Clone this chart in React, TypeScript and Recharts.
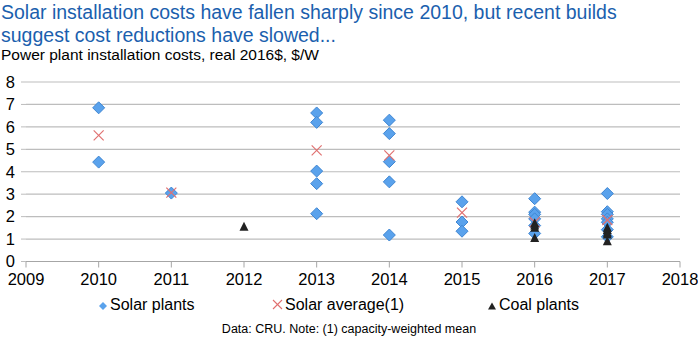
import React from "react";
import { ScatterChart, Scatter, XAxis, YAxis, CartesianGrid } from "recharts";

const years = [2009, 2010, 2011, 2012, 2013, 2014, 2015, 2016, 2017, 2018];
const costTicks = [0, 1, 2, 3, 4, 5, 6, 7, 8];

const solarYears = [
  2010, 2010, 2011, 2013, 2013, 2013, 2013, 2013, 2014, 2014, 2014, 2014, 2014,
  2015, 2015, 2015, 2016, 2016, 2016, 2016, 2016, 2016, 2017, 2017, 2017, 2017,
  2017, 2017, 2017,
];
const solarCosts = [
  6.85, 4.43, 3.05, 6.62, 6.2, 4.03, 3.47, 2.13, 6.3, 5.7, 4.45, 3.55, 1.18,
  2.66, 1.76, 1.35, 2.8, 2.2, 2.1, 1.9, 1.6, 1.25, 3.03, 2.22, 2.1, 1.9, 1.75,
  1.42, 1.1,
];

const avgYears = [2010, 2011, 2013, 2014, 2015, 2016, 2017];
const avgCosts = [5.62, 3.07, 4.95, 4.73, 2.18, 1.75, 1.85];

const coalYears = [2012, 2016, 2016, 2016, 2016, 2017, 2017, 2017, 2017, 2017];
const coalCosts = [1.55, 1.7, 1.6, 1.5, 1.05, 1.5, 1.4, 1.28, 1.2, 0.9];

const toPoints = (xs: number[], ys: number[]) =>
  xs.map((x, i) => ({ year: x, cost: ys[i] }));

const solarData = toPoints(solarYears, solarCosts);
const avgData = toPoints(avgYears, avgCosts);
const coalData = toPoints(coalYears, coalCosts);

const BLUE_FILL = "#5AA2EC";
const BLUE_EDGE = "#3F86D3";
const RED_X = "#E07070";
const FONT = "'Liberation Sans', Arial, sans-serif";

const Diamond = ({ cx, cy }: any) => (
  <polygon
    points={`${cx},${cy - 6} ${cx + 6},${cy} ${cx},${cy + 6} ${cx - 6},${cy}`}
    fill={BLUE_FILL}
    stroke={BLUE_EDGE}
    strokeWidth={1}
  />
);

const Cross = ({ cx, cy }: any) => (
  <g stroke={RED_X} strokeWidth={1.2}>
    <line x1={cx - 5} y1={cy - 5} x2={cx + 5} y2={cy + 5} />
    <line x1={cx - 5} y1={cy + 5} x2={cx + 5} y2={cy - 5} />
  </g>
);

const Triangle = ({ cx, cy }: any) => (
  <polygon
    points={`${cx},${cy - 5} ${cx + 4.5},${cy + 4} ${cx - 4.5},${cy + 4}`}
    fill="#222"
  />
);

export default function App() {
  return (
    <div
      style={{
        position: "absolute",
        left: 0,
        top: 0,
        width: 698,
        height: 344,
        background: "#fff",
        fontFamily: FONT,
      }}
    >
      <div
        style={{
          position: "absolute",
          left: 1,
          top: 1,
          fontSize: 19.5,
          lineHeight: "23px",
          color: "#1B5FAE",
        }}
      >
        Solar installation costs have fallen sharply since 2010, but recent builds
        <br />
        suggest cost reductions have slowed...
      </div>
      <div
        style={{
          position: "absolute",
          left: 1,
          top: 47,
          fontSize: 15.5,
          lineHeight: "16px",
          color: "#000",
        }}
      >
        Power plant installation costs, real 2016$, $/W
      </div>

      <ScatterChart
        width={698}
        height={344}
        margin={{ top: 82, right: 18, bottom: 0, left: 0 }}
        style={{ position: "absolute", left: 0, top: 0 }}
      >
        <CartesianGrid vertical={false} stroke="#BDBDBD" strokeWidth={1.2} />
        <XAxis
          type="number"
          dataKey="year"
          domain={[2009, 2018]}
          ticks={years}
          interval={0}
          height={82.5}
          tickSize={6}
          tickMargin={6}
          stroke="#A6A6A6"
          tick={{ fill: "#000", fontSize: 16.5, fontFamily: FONT }}
          allowDecimals={false}
        />
        <YAxis
          type="number"
          dataKey="cost"
          domain={[0, 8]}
          ticks={costTicks}
          interval={0}
          width={26}
          axisLine={false}
          tickSize={5}
          tickMargin={6}
          tickLine={{ stroke: "#BDBDBD" }}
          tick={{ fill: "#000", fontSize: 16.5, fontFamily: FONT }}
        />
        <Scatter
          name="Solar plants"
          data={solarData}
          shape={<Diamond />}
          isAnimationActive={false}
        />
        <Scatter
          name="Solar average(1)"
          data={avgData}
          shape={<Cross />}
          isAnimationActive={false}
        />
        <Scatter
          name="Coal plants"
          data={coalData}
          shape={<Triangle />}
          isAnimationActive={false}
        />
      </ScatterChart>

      <div
        style={{
          position: "absolute",
          top: 296,
          left: 0,
          width: 698,
          fontSize: 16,
          color: "#000",
        }}
      >
        <span style={{ position: "absolute", left: 99 }}>
          <svg width={8} height={8} style={{ marginRight: 3 }}>
            <polygon points="4,0 8,4 4,8 0,4" fill={BLUE_FILL} />
          </svg>
          Solar plants
        </span>
        <span style={{ position: "absolute", left: 272 }}>
          <svg width={11} height={11} style={{ marginRight: 2 }}>
            <g stroke={RED_X} strokeWidth={1.1}>
              <line x1={1} y1={1} x2={10} y2={10} />
              <line x1={1} y1={10} x2={10} y2={1} />
            </g>
          </svg>
          Solar average(1)
        </span>
        <span style={{ position: "absolute", left: 488 }}>
          <svg width={8} height={8} style={{ marginRight: 3 }}>
            <polygon points="4,0.5 8,7.5 0,7.5" fill="#222" />
          </svg>
          Coal plants
        </span>
      </div>
      <div
        style={{
          position: "absolute",
          top: 322,
          left: 0,
          width: 698,
          textAlign: "center",
          fontSize: 12.5,
          color: "#000",
        }}
      >
        Data: CRU. Note: (1) capacity-weighted mean
      </div>
    </div>
  );
}
